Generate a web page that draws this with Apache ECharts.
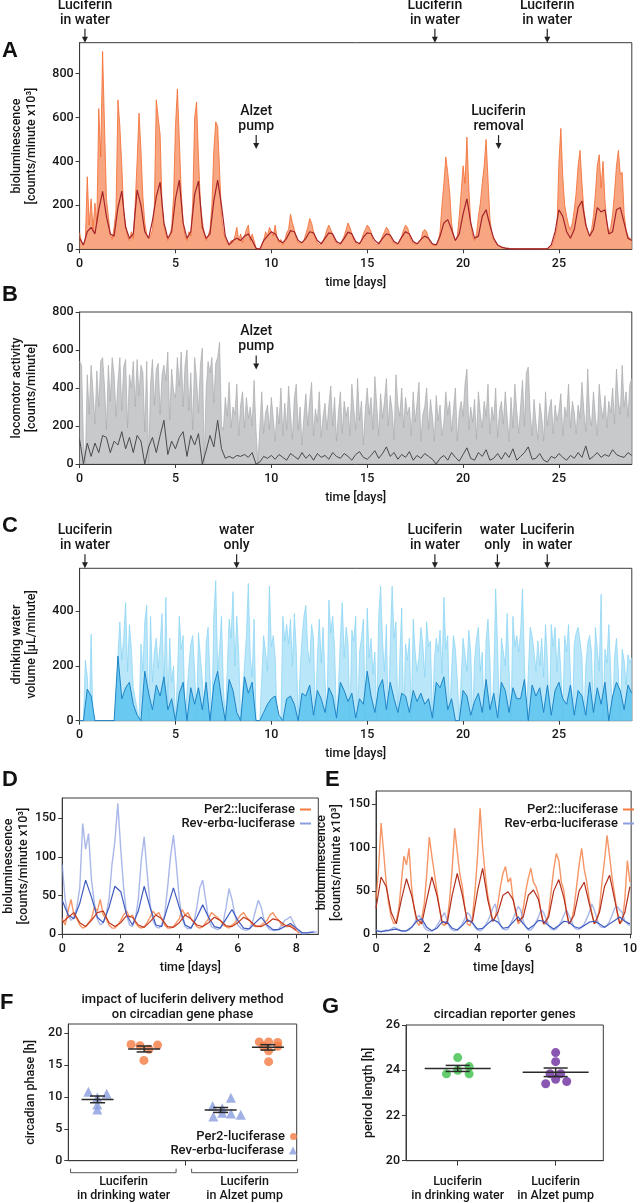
<!DOCTYPE html>
<html><head><meta charset="utf-8">
<script src="https://cdn.jsdelivr.net/npm/echarts@6.0.0/dist/echarts.min.js"></script>
<style>html,body{margin:0;padding:0;background:#fff}#c{width:640px;height:1203px}</style>
</head><body><div id="c"></div>
<script>
// ---------------- DATA ----------------
// Panel A: bioluminescence (raw every 0.1 day, smoothed every 0.2 day)
const A_raw = [
75,35,20,40,330,110,230,90,210,120,
640,420,900,560,230,150,70,45,100,180,
680,560,380,170,110,60,40,80,50,210,
400,620,450,240,120,70,50,60,90,200,
680,600,520,200,110,70,40,60,100,240,
560,730,500,260,120,60,40,80,60,210,
600,670,420,210,130,70,40,60,90,200,
450,580,560,360,150,80,50,30,20,40,
30,60,100,40,70,30,60,90,110,40,
70,40,5,0,0,0,40,80,60,100,
100,60,110,50,30,45,20,40,75,90,
160,120,90,50,30,25,30,40,70,100,
140,120,80,50,30,20,30,40,60,90,
110,90,70,40,30,20,25,40,60,90,
120,100,70,40,30,20,30,40,70,90,
110,100,80,40,30,20,30,40,60,80,
100,90,60,40,25,20,25,30,60,90,
110,100,70,40,25,20,25,30,40,80,
90,80,50,30,20,15,20,30,80,200,
300,420,350,260,120,60,40,60,150,260,
380,300,510,280,120,60,40,70,150,210,
300,380,500,320,140,70,40,30,20,15,
10,8,6,5,4,3,3,3,2,2,
2,2,2,2,3,2,2,2,2,2,
2,2,2,2,3,5,10,30,60,100,
400,550,330,200,150,110,90,120,180,260,
380,450,300,180,120,80,60,90,150,250,
380,430,280,400,220,120,70,100,160,260,
380,450,340,350,160,90,60,50,40];
const A_smooth = [
50,20,80,100,70, 180,264,150,70,60, 190,265,100,50,70, 270,200,80,50,130,
240,305,120,50,80, 230,315,120,50,80, 250,310,100,50,70, 220,315,200,60,20,
40,50,40,60,70, 40,5,0,40,60, 80,70,40,30,50, 85,80,40,30,50,
80,75,40,25,50, 75,70,35,25,50, 78,70,35,25,55, 75,72,40,25,50,
70,65,35,25,55, 80,70,35,25,45, 60,50,25,20,60, 120,135,90,40,70,
160,230,120,50,60, 150,180,110,50,20, 10,5,3,2,2, 2,2,2,2,2,
2,2,3,20,80, 180,150,80,50,90, 190,220,110,60,90, 190,170,180,70,80,
180,190,120,50,40];

// Panel B: locomotor activity
const B_raw = [
540,520,120,0,470,260,520,380,210,490,
300,540,560,410,180,520,330,560,470,250,
430,560,280,510,550,190,470,400,540,300,
550,360,520,480,170,540,0,420,550,310,
500,530,260,470,520,440,590,230,500,380,
350,560,410,590,300,520,600,280,480,180,
560,450,270,520,610,0,390,540,480,560,
320,530,560,640,200,180,350,250,430,190,
300,260,420,150,310,380,190,350,240,300,
200,440,180,0,0,380,160,270,310,180,
350,240,120,300,210,400,150,320,180,410,
260,130,350,420,180,300,100,250,370,200,
330,430,150,290,220,380,140,250,320,180,
310,410,200,350,120,270,380,160,330,250,
300,150,420,290,180,450,230,330,100,280,
400,260,350,180,460,300,150,370,240,330,
450,200,360,280,130,470,310,250,400,190,
350,260,300,150,380,220,320,430,120,260,
300,400,180,340,250,120,360,230,310,150,
220,380,260,330,170,290,400,120,270,330,
250,420,500,180,300,220,340,130,380,260,
190,330,250,420,160,300,230,400,140,280,
330,210,380,250,120,350,190,420,280,160,
300,440,200,480,510,270,150,340,220,130,
320,250,120,380,200,290,340,160,310,230,
280,370,150,300,250,420,190,330,270,160,
310,240,430,280,170,500,260,200,380,250,
150,420,300,240,360,190,330,270,400,210,
500,330,260,520,300,380,250,420,450];
const B_smooth = [
130,0,110,40,110, 60,150,140,60,120, 100,170,80,140,60, 150,120,0,90,140,
60,150,230,50,120, 80,140,170,40,150, 100,160,0,70,150, 90,230,80,30,40,
30,45,40,50,35, 60,0,10,40,30, 45,25,50,35,20, 55,40,25,60,30,
50,20,55,35,45, 25,60,40,30,55, 40,20,50,65,35, 25,45,70,30,55,
90,40,60,25,50, 35,65,20,45,30, 55,40,25,0,30, 45,20,60,35,15,
50,85,30,20,60, 40,75,20,30,55, 25,60,35,80,20, 40,60,90,25,30,
55,20,10,40,30, 55,35,20,45,30, 60,35,95,25,40, 60,35,50,40,75,
50,40,35,60,45];

// Panel C: drinking water volume
const C_raw = [
0,0,0,220,160,0,315,0,0,0,
0,0,0,0,0,0,0,0,0,0,
240,360,220,300,430,180,350,260,120,80,
40,0,280,180,360,420,0,380,140,250,
300,190,280,390,100,450,60,300,140,200,
0,150,380,260,310,0,0,200,280,310,
180,0,320,230,150,0,280,340,160,0,
380,510,180,260,380,120,0,0,370,300,
470,200,380,240,0,0,200,310,500,230,
160,370,0,0,0,0,310,250,180,490,
270,310,230,0,0,0,380,290,350,280,
370,200,390,260,0,180,300,380,420,260,
210,350,300,0,230,370,210,340,150,0,
440,320,380,260,0,120,300,430,230,340,
280,0,330,290,380,0,250,300,370,0,
410,230,300,170,250,0,380,490,290,180,
350,0,270,490,300,360,0,230,410,0,
280,220,300,0,370,250,180,230,340,280,
160,360,270,290,0,220,300,250,330,170,
450,260,310,0,180,310,260,150,0,0,
300,240,180,330,250,0,220,300,340,180,
250,0,290,370,220,0,160,480,270,0,
300,250,200,390,180,0,380,270,310,250,
320,480,210,0,0,340,310,250,180,290,
200,300,160,350,220,0,350,270,340,180,
300,180,0,310,250,350,170,0,280,320,
340,290,230,0,200,280,310,250,0,340,
260,180,460,0,260,210,350,180,0,230,
300,180,0,260,220,130,240,210,230];
const C_smooth = [
0,0,115,90,0, 0,0,0,0,0, 235,80,120,140,60, 20,0,180,100,40,
130,90,160,40,80, 0,100,140,0,120, 60,120,40,140,0, 130,180,80,0,150,
110,30,0,160,100, 140,0,0,30,60, 80,90,20,0,80, 90,60,0,100,90,
130,20,110,80,30, 120,90,10,140,110, 70,100,10,80,60, 180,90,30,120,150,
40,140,80,30,100, 90,30,110,70,100, 60,80,10,140,120, 160,40,80,0,0,
110,90,20,70,100, 30,150,40,100,10, 140,110,30,120,80, 80,150,0,130,90,
120,30,130,20,110, 140,80,60,130,20, 110,90,20,140,30, 120,60,140,0,90,
140,110,40,130,100];

// Panel D (raw 0.1 day, smoothed 0.2 day)
const D_rev_raw = [
90,45,25,18,22,35,60,143,110,130,
70,40,20,12,15,25,45,90,120,169,
110,60,25,12,10,20,45,95,126,80,
40,18,10,8,12,25,60,100,128,90,
45,20,10,7,8,15,35,60,70,45,
20,10,8,6,8,15,35,59,45,25,
12,8,6,5,8,15,30,44,35,18,
10,6,5,5,7,12,18,20,23,15,
8,3,1,1,2,3,3,3];
const D_rev_smooth = [44,25,20,40,70,48,22,15,35,62,55,25,12,30,62,35,12,10,35,60,35,12,8,22,38,22,10,8,20,32,18,8,7,15,22,12,6,6,10,14,8,2,2,3];
const D_per_raw = [
20,12,30,45,25,20,12,8,10,15,
20,35,30,45,25,20,12,8,8,12,
18,25,30,22,25,15,10,8,10,15,
22,30,25,28,20,12,8,8,10,15,
20,32,25,28,20,15,10,8,10,15,
20,28,25,22,18,12,10,8,12,15,
20,25,28,22,18,12,10,10,12,15,
18,25,28,22,18,12,10,10,12,10,
5,1];
const D_per_smooth = [15,22,28,15,10,18,28,30,15,10,15,24,22,12,9,16,25,20,10,9,15,25,20,12,10,15,22,18,11,10,15,22,18,11,10,14,20,18,12,10,5];

// Panel E
const E_per_raw = [
40,75,128,95,60,35,20,12,15,30,
60,90,80,99,55,30,15,10,18,35,
70,112,90,70,50,30,12,10,15,40,
75,122,95,70,55,30,12,10,20,50,
90,145,100,70,45,30,15,20,35,55,
70,78,60,65,40,25,12,15,30,50,
65,76,60,55,45,25,12,12,25,50,
75,93,85,60,50,25,12,15,30,55,
80,99,75,60,40,25,12,15,30,60,
85,114,90,65,45,25,12,15,40,85,
60];
const E_per_smooth = [30,66,55,25,12,40,64,45,18,12,40,66,45,15,12,45,70,45,15,15,50,76,40,15,25,45,49,40,15,20,45,51,40,12,20,50,63,42,12,22,50,60,35,12,25,55,68,40,12,25,55];
const E_rev_raw = [
5,4,3,4,5,4,6,8,7,5,
4,3,4,5,8,12,18,22,15,8,
5,4,4,6,10,15,20,25,16,8,
5,4,5,8,12,18,25,22,14,8,
5,4,6,10,15,22,30,35,20,10,
6,5,6,12,18,25,32,28,15,8,
5,5,8,14,20,28,25,18,10,6,
5,6,10,15,22,28,22,15,8,6,
6,8,12,18,25,35,28,18,10,8,
8,10,15,22,30,32,28,25,15,12,
10];
const E_rev_smooth = [4,3,4,5,6,4,4,8,15,18,8,4,7,14,14,7,5,10,17,13,6,7,12,17,14,7,8,14,20,12,6,10,16,15,10,6,10,15,14,9,7,10,14,15,12,8,12,16,20,15,12];

// Panel F: circadian phase [h]  ([x within group, value])
const F_rev_water = [[0.88,10.8],[1.68,10.5],[1.27,9.9],[1.27,8.8],[1.27,8.0]];
const F_per_water = [[2.75,18.2],[3.14,18.0],[3.91,18.1],[3.53,17.45],[3.31,15.7]];
const F_rev_pump  = [[6.32,8.55],[7.12,9.85],[6.35,6.9],[6.74,7.5],[7.12,7.4],[7.55,7.2],[6.74,8.2]];
const F_per_pump  = [[8.36,18.6],[8.77,18.6],[9.17,18.5],[8.54,17.9],[9.17,17.9],[8.77,17.2],[8.77,15.5]];
const F_centers = [1.28, 3.32, 6.67, 8.74];
const F_groupLabels = ['Luciferin\nin drinking water', 'Luciferin\nin Alzet pump'];

// Panel G: period length [h]
const G_water = [[0.41,23.84],[0.524,24.0],[0.524,24.56],[0.64,24.16],[0.64,23.84]];
const G_pump  = [[1.517,24.78],[1.517,24.38],[1.46,23.85],[1.568,23.85],[1.517,23.6],[1.416,23.4],[1.629,23.5]];
const G_centers = [0.524, 1.517];

// tick labels
const ticksLong = [0,5,10,15,20,25];
const ticksD = [0,2,4,6,8];
const ticksE = [0,2,4,6,8,10];

// ---------------- CHART ----------------
const AX = '#3a3a3a', TXT = '#161616';
const FONT = 'Roboto, "Noto Sans", "DejaVu Sans", sans-serif';
const chart = echarts.init(document.getElementById('c'), null, {renderer:'canvas'});

function ts(arr, step){ return arr.map((v,i)=>[Math.round(i*step*100)/100, v]); }
function meanSem(pts){
  const v = pts.map(p=>p[1]); const n=v.length;
  const m = v.reduce((a,b)=>a+b,0)/n;
  const sd = Math.sqrt(v.reduce((a,b)=>a+(b-m)*(b-m),0)/(n-1));
  return [m, sd/Math.sqrt(n)];
}
const lbl = {color:TXT, fontSize:12.5, fontFamily:FONT, fontWeight:500};
const nm = {color:TXT, fontSize:12.5, fontFamily:FONT, fontWeight:500, lineHeight:15};

const gridDefs = [
 {left:79.6, top:42.7, width:552.2, height:206.6},
 {left:79.6, top:312, width:552.2, height:152},
 {left:79.6, top:568.3, width:552.2, height:152.4},
 {left:57.3, top:798, width:261, height:136.3},
 {left:376, top:791, width:260, height:143.3},
 {left:68.3, top:1024, width:228.4, height:136.7},
 {left:406, top:1025, width:197.3, height:135.7}
].map(g=>Object.assign({show:true, borderColor:AX, borderWidth:1, backgroundColor:'transparent'}, g));

function xTime(gi, max, interval, ticks){
  return {type:'value', gridIndex:gi, min:0, max, interval,
    axisLine:{onZero:false, lineStyle:{color:AX, width:1}},
    axisTick:{length:4, lineStyle:{color:AX}, customValues:ticks},
    axisLabel:Object.assign({customValues:ticks, margin:8}, lbl),
    splitLine:{show:false},
    name:'time [days]', nameLocation:'middle', nameGap:26, nameTextStyle:nm};
}
function yVal(gi, min, max, interval, ticks, name, gap){
  return {type:'value', gridIndex:gi, min, max, interval,
    axisLine:{show:true, onZero:false, lineStyle:{color:AX}},
    axisTick:{show:true, length:4, lineStyle:{color:AX}, customValues:ticks},
    axisLabel:Object.assign({customValues:ticks, margin:6}, lbl),
    splitLine:{show:false},
    name, nameLocation:'middle', nameRotate:90, nameGap:gap, nameTextStyle:nm};
}
const yMax = [940, 800, 555, 176, 165, 21.4, 26];

const xAxes = [
  xTime(0, 28.8, 5, ticksLong), xTime(1, 28.8, 5, ticksLong), xTime(2, 28.8, 5, ticksLong),
  xTime(3, 8.75, 2, ticksD), xTime(4, 10.05, 2, ticksE),
  {type:'value', gridIndex:5, min:0, max:10, interval:5,
    axisLine:{onZero:false, lineStyle:{color:AX}},
    axisTick:{length:5, lineStyle:{color:AX}, customValues:[5.1]},
    axisLabel:Object.assign({customValues:[2.42,7.72], margin:14, lineHeight:14,
      formatter:v=> v<5 ? F_groupLabels[0] : F_groupLabels[1]}, lbl),
    splitLine:{show:false}},
  {type:'value', gridIndex:6, min:0, max:2, interval:1,
    axisLine:{onZero:false, lineStyle:{color:AX}},
    axisTick:{length:5, lineStyle:{color:AX}, customValues:G_centers},
    axisLabel:Object.assign({customValues:G_centers, margin:14, lineHeight:14,
      formatter:v=> v<1 ? F_groupLabels[0] : F_groupLabels[1]}, lbl),
    splitLine:{show:false}}
];
const yAxes = [
  yVal(0, 0, 940, 200, [0,200,400,600,800], 'bioluminescence\n[counts/minute x10³]', 40),
  yVal(1, 0, 800, 200, [0,200,400,600,800], 'locomotor activity\n[counts/minute]', 40),
  yVal(2, 0, 555, 200, [0,200,400], 'drinking water\nvolume [µL/minute]', 40),
  yVal(3, 0, 176, 50, [0,50,100,150], 'bioluminescence\n[counts/minute x10³]', 27),
  yVal(4, 0, 165, 50, [0,50,100,150], 'bioluminescence\n[counts/minute x10³]', 28),
  yVal(5, 0, 21.4, 5, [0,5,10,15,20], 'circadian phase [h]', 30),
  yVal(6, 20, 26, 2, [20,22,24,26], 'period length [h]', 30)
];

function line(gi, data, color, width, area, z, name, opacity){
  const s = {type:'line', name:name||('s'+gi+'_'+z), xAxisIndex:gi, yAxisIndex:gi, data, symbol:'none', showSymbol:false,
    color, lineStyle:{color, width, opacity:opacity==null?1:opacity}, z:z||2, silent:true, animation:false};
  if (area) s.areaStyle = {color:area, opacity:0.85};
  return s;
}
function meanSeries(gi, centers, groups, hw, hs){
  const data = groups.map((g,i)=>{ const [m,s]=meanSem(g); return [centers[i], m, s]; });
  return {type:'custom', xAxisIndex:gi, yAxisIndex:gi, data, z:10, silent:true, clip:false,
    renderItem:(p, api)=>{
      const cx=api.value(0), m=api.value(1), s=api.value(2);
      const a=api.coord([cx,m]), u=api.coord([cx,m+s]), l=api.coord([cx,m-s]);
      const st={stroke:'#2a2a2a', lineWidth:1.5};
      return {type:'group', children:[
        {type:'line', shape:{x1:a[0]-hw,y1:a[1],x2:a[0]+hw,y2:a[1]}, style:st},
        {type:'line', shape:{x1:a[0]-hs,y1:u[1],x2:a[0]+hs,y2:u[1]}, style:st},
        {type:'line', shape:{x1:a[0]-hs,y1:l[1],x2:a[0]+hs,y2:l[1]}, style:st},
        {type:'line', shape:{x1:a[0],y1:u[1],x2:a[0],y2:l[1]}, style:st}
      ]};
    }};
}

const ORANGE='#f47a42', BLUE='#8a9de0';
const series = [
  line(0, ts(A_raw,0.1), '#f2692f', 0.8, '#f6976b', 2),
  line(0, ts(A_smooth,0.2), '#a3232a', 1.2, null, 3),
  line(1, ts(B_raw,0.1), '#a9abae', 0.7, '#bdbfc2', 2),
  line(1, ts(B_smooth,0.2), '#4a4a4c', 1, null, 3),
  line(2, ts(C_raw,0.1), '#85d2f3', 0.7, '#aee2f8', 2),
  line(2, ts(C_smooth,0.2), '#1d84c6', 1, '#5cc3ee', 3),
  line(3, ts(D_rev_raw,0.1), '#8c9fe2', 1.4, null, 2, 'D_rev', 0.75),
  line(3, ts(D_per_raw,0.1), '#f47a3e', 1.4, null, 3, 'D_per', 0.8),
  line(3, ts(D_rev_smooth,0.2), '#3f5bc0', 1.2, null, 4),
  line(3, ts(D_per_smooth,0.2), '#c4391c', 1.2, null, 5),
  line(4, ts(E_per_raw,0.1), '#f47a3e', 1.4, null, 2, 'E_per', 0.8),
  line(4, ts(E_rev_raw,0.1), '#8c9fe2', 1.4, null, 3, 'E_rev', 0.75),
  line(4, ts(E_per_smooth,0.2), '#b3301e', 1.2, null, 4),
  line(4, ts(E_rev_smooth,0.2), '#3f5bc0', 1.2, null, 5),
  {type:'scatter', name:'F_rev', xAxisIndex:5, yAxisIndex:5, data:F_rev_water.concat(F_rev_pump), symbol:'triangle', symbolSize:10, itemStyle:{color:BLUE}, z:5, silent:true},
  {type:'scatter', name:'F_per', xAxisIndex:5, yAxisIndex:5, data:F_per_water.concat(F_per_pump), symbol:'circle', symbolSize:9, itemStyle:{color:ORANGE}, z:5, silent:true},
  meanSeries(5, F_centers, [F_rev_water, F_per_water, F_rev_pump, F_per_pump], 16, 7.5),
  {type:'scatter', name:'G_w', xAxisIndex:6, yAxisIndex:6, data:G_water, symbol:'circle', symbolSize:9, itemStyle:{color:'#3cbf48'}, z:5, silent:true},
  {type:'scatter', name:'G_p', xAxisIndex:6, yAxisIndex:6, data:G_pump, symbol:'circle', symbolSize:9, itemStyle:{color:'#6b2c9e'}, z:5, silent:true},
  meanSeries(6, G_centers, [G_water, G_pump], 33, 12)
];

const legendNames = {D_per:'Per2::luciferase', D_rev:'Rev-erbα-luciferase', E_per:'Per2::luciferase', E_rev:'Rev-erbα-luciferase', F_per:'Per2-luciferase', F_rev:'Rev-erbα-luciferase'};
function leg(name, right, top, icon, w, h){
  return {data:[{name, icon}], right, top, orient:'vertical', align:'right', itemWidth:w, itemHeight:h, itemGap:0, padding:0,
    selectedMode:false, formatter:n=>legendNames[n], textStyle:{color:TXT, fontSize:13, fontFamily:FONT, fontWeight:500, padding:[0,0,0,0]}};
}
const legends = [
  leg('D_per', 329, 803, 'rect', 11, 2), leg('D_rev', 329, 817, 'rect', 11, 2),
  leg('E_per', 6, 803, 'rect', 11, 2), leg('E_rev', 6, 817, 'rect', 11, 2),
  leg('F_per', 343, 1130, 'circle', 7, 7), leg('F_rev', 343, 1144, 'triangle', 8, 8)
];

chart.setOption({animation:false, backgroundColor:'#fff', grid:gridDefs, xAxis:xAxes, yAxis:yAxes, series, legend:legends});

// ---------------- ANNOTATIONS ----------------
const annotations = [
  {g:0, x:0.28, y:null, text:'Luciferin\nin water'},
  {g:0, x:18.53, y:null, text:'Luciferin\nin water'},
  {g:0, x:24.39, y:null, text:'Luciferin\nin water'},
  {g:0, x:9.21, y:456, text:'Alzet\npump'},
  {g:0, x:21.85, y:456, text:'Luciferin\nremoval'},
  {g:1, x:9.21, y:498, text:'Alzet\npump'},
  {g:2, x:0.28, y:null, text:'Luciferin\nin water'},
  {g:2, x:8.19, y:null, text:'water\nonly'},
  {g:2, x:18.53, y:null, text:'Luciferin\nin water'},
  {g:2, x:21.79, y:null, text:'water\nonly'},
  {g:2, x:24.39, y:null, text:'Luciferin\nin water'}
];
const F_brackets = [[0.1, 4.72], [5.4, 10.04]];
const gr = [];
annotations.forEach(a=>{
  const p = chart.convertToPixel({gridIndex:a.g}, [a.x, a.y==null ? yMax[a.g] : a.y]);
  const px=p[0], py=p[1];
  gr.push({type:'text', x:px, y:py-15, style:{text:a.text, fontSize:14, fontFamily:FONT, fontWeight:500, fill:TXT, align:'center', verticalAlign:'bottom', lineHeight:15}});
  gr.push({type:'line', shape:{x1:px,y1:py-14,x2:px,y2:py-5}, style:{stroke:'#222', lineWidth:1.2}});
  gr.push({type:'polygon', shape:{points:[[px-3,py-6],[px+3,py-6],[px,py]]}, style:{fill:'#222'}});
});
F_brackets.forEach(b=>{
  const p0 = chart.convertToPixel({gridIndex:5}, [b[0], 0]);
  const p1 = chart.convertToPixel({gridIndex:5}, [b[1], 0]);
  const y = p0[1] + 12;
  gr.push({type:'polyline', shape:{points:[[p0[0],y-4],[p0[0],y],[p1[0],y],[p1[0],y-4]]}, style:{stroke:'#555', lineWidth:1, fill:null}});
});
const letters = [['A',2,40],['B',2,284],['C',2,515],['D',2,769],['E',325,769],['F',0,992],['G',322,996]];
letters.forEach(l=>gr.push({type:'text', x:l[1], y:l[2], style:{text:l[0], fontSize:22, fontWeight:'bold', fontFamily:'"Liberation Sans", Arial, sans-serif', fill:'#111'}}));
const titles = [['impact of luciferin delivery method', 5, 1000], ['on circadian gene phase', 5, 1015], ['circadian reporter genes', 6, 1015]];
titles.forEach(t=>{
  const g = gridDefs[t[1]];
  gr.push({type:'text', x:g.left + g.width/2, y:t[2], style:{text:t[0], fontSize:13, fontFamily:FONT, fontWeight:500, fill:TXT, align:'center', verticalAlign:'middle'}});
});
chart.setOption({graphic:gr});
</script></body></html>
